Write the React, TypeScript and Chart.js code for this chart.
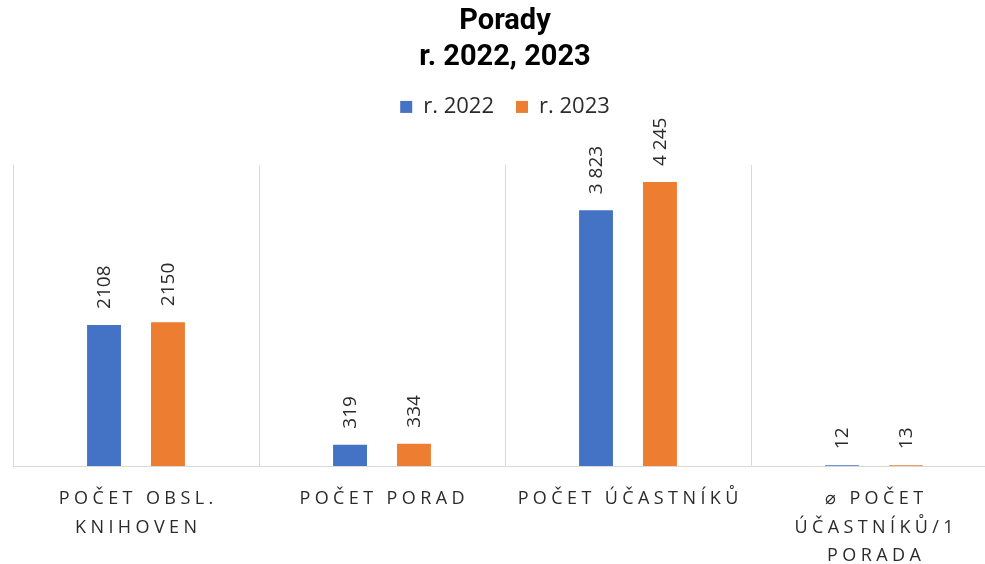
import React, { useEffect, useRef } from "react";
import { Chart, registerables } from "chart.js";

Chart.register(...registerables);

const categories: string[][] = [
  ["POČET OBSL.", "KNIHOVEN"],
  ["POČET PORAD"],
  ["POČET ÚČASTNÍKŮ"],
  ["⌀ POČET", "ÚČASTNÍKŮ/1", "PORADA"],
];
const seriesNames = ["r. 2022", "r. 2023"];
const values2022 = [2108, 319, 3823, 12];
const values2023 = [2150, 334, 4245, 13];
const valueLabels2022 = ["2108", "319", "3 823", "12"];
const valueLabels2023 = ["2150", "334", "4 245", "13"];
const titleLines = ["Porady", "r. 2022, 2023"];
const yMax = 4500;

const BLUE = "#4472C4";
const ORANGE = "#ED7D31";
const GRID = "#d9d9d9";
const TEXT = "#2b2b2b";
const FONT = "Open Sans";

const valueLabelPlugin = {
  id: "valueLabels",
  afterDatasetsDraw(chart: any) {
    const ctx = chart.ctx;
    const all = [valueLabels2022, valueLabels2023];
    chart.data.datasets.forEach((_ds: any, di: number) => {
      const meta = chart.getDatasetMeta(di);
      meta.data.forEach((el: any, i: number) => {
        ctx.save();
        ctx.translate(el.x, el.y - 16);
        ctx.rotate(-Math.PI / 2);
        ctx.font = `500 19px "${FONT}"`;
        ctx.fillStyle = TEXT;
        ctx.textAlign = "left";
        ctx.textBaseline = "middle";
        ctx.fillText(all[di][i], 0, 1);
        ctx.restore();
      });
    });
  },
};

const categoryLabelPlugin = {
  id: "categoryLabels",
  afterDraw(chart: any) {
    const ctx = chart.ctx;
    const xs = chart.scales.x;
    const spacing = 4.4;
    ctx.save();
    ctx.font = `500 18px "${FONT}"`;
    ctx.fillStyle = TEXT;
    ctx.textAlign = "center";
    ctx.textBaseline = "middle";
    (ctx as any).letterSpacing = spacing + "px";
    categories.forEach((lines, i) => {
      const x = xs.getPixelForTick(i) + spacing / 2;
      lines.forEach((line, li) => {
        ctx.fillText(line, x, xs.top + 33 + li * 28.5);
      });
    });
    ctx.restore();
  },
};

export default function App() {
  const ref = useRef<HTMLCanvasElement>(null);

  useEffect(() => {
    if (!ref.current) return;
    const chart = new Chart(ref.current, {
      type: "bar",
      data: {
        labels: categories.map((c) => c.join(" ")),
        datasets: [
          {
            label: seriesNames[0],
            data: values2022,
            backgroundColor: BLUE,
            categoryPercentage: 0.52,
            barPercentage: 0.53,
          },
          {
            label: seriesNames[1],
            data: values2023,
            backgroundColor: ORANGE,
            categoryPercentage: 0.52,
            barPercentage: 0.53,
          },
        ],
      },
      options: {
        animation: false,
        responsive: true,
        maintainAspectRatio: false,
        layout: { padding: { left: 13, right: 3, top: 0, bottom: 0 } },
        plugins: {
          title: {
            display: true,
            text: titleLines,
            color: "#000000",
            font: { family: "Roboto", size: 29, weight: "bold", lineHeight: 1.24 },
            padding: { top: 4, bottom: -2 },
          },
          legend: {
            display: true,
            position: "top",
            labels: {
              boxWidth: 12,
              boxHeight: 12,
              padding: 22,
              color: TEXT,
              font: { family: FONT, size: 22, weight: "500" },
            },
          },
          tooltip: { enabled: false },
        },
        scales: {
          x: {
            type: "category",
            position: "bottom",
            offset: true,
            grid: { display: true, color: GRID, drawTicks: false, offset: true, lineWidth: 1 },
            border: { display: true, color: GRID },
            ticks: { display: false },
            afterFit(s: any) {
              s.height = 98;
            },
          },
          xTop: {
            type: "category",
            axis: "x",
            position: "top",
            grid: { display: false, drawTicks: false },
            border: { display: false },
            ticks: { display: false },
            afterFit(s: any) {
              s.height = 37;
            },
          },
          y: {
            display: false,
            min: 0,
            max: yMax,
          },
        },
      } as any,
      plugins: [valueLabelPlugin, categoryLabelPlugin],
    });
    const fonts = (document as any).fonts;
    if (fonts && fonts.load) {
      Promise.all([
        fonts.load(`500 18px "${FONT}"`),
        fonts.load(`500 19px "${FONT}"`),
        fonts.load(`500 22px "${FONT}"`),
        fonts.load(`bold 29px "Roboto"`),
      ])
        .then(() => chart.update())
        .catch(() => {});
    }
    return () => chart.destroy();
  }, []);

  return (
    <div
      style={{
        position: "fixed",
        left: 0,
        top: 0,
        width: 985,
        height: 564,
        overflow: "hidden",
        background: "#ffffff",
      }}
    >
      <div style={{ position: "relative", width: 1000, height: 564 }}>
        <canvas ref={ref} />
      </div>
    </div>
  );
}
